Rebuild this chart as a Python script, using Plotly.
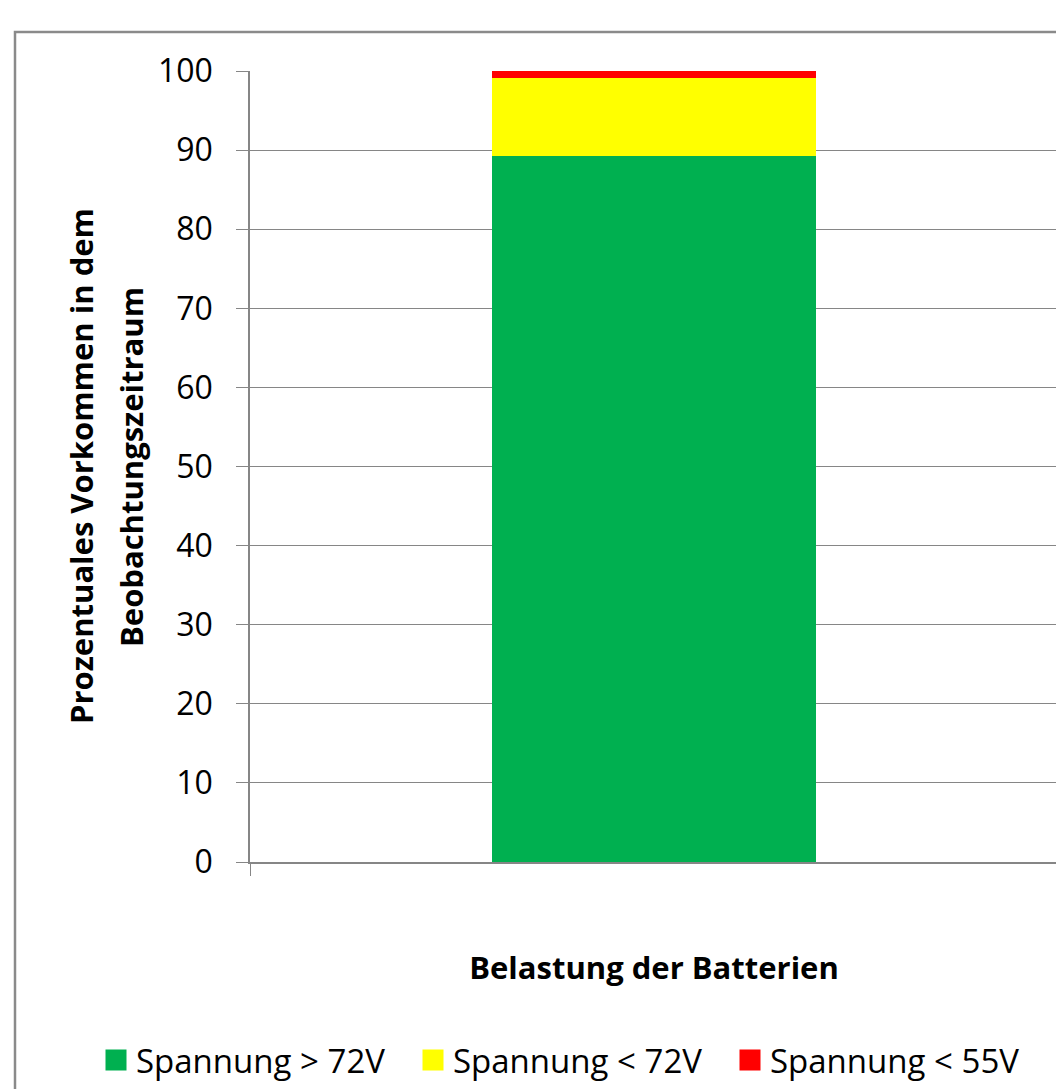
import plotly.graph_objects as go

categories = ["Belastung der Batterien"]
series_names = ["Spannung > 72V", "Spannung < 72V", "Spannung < 55V"]
green_vals = [89.3]
yellow_vals = [9.8]
red_vals = [0.9]
colors = ["#00B050", "#FFFF00", "#FF0000"]

FONT = "Open Sans"
OFF = 8  # page body margin of the html page

W, H = 1064, 1089
L = 250 - OFF
T = 71 - OFF
plot_right = 1058 - OFF
plot_bottom = 862 - OFF
R = W - plot_right
B = H - plot_bottom
pw = plot_right - L
ph = plot_bottom - T


def px_x(sx):
    return (sx - OFF - L) / pw


def px_y(sy):
    return (plot_bottom - (sy - OFF)) / ph


fig = go.Figure()
for name, vals, col in zip(series_names, [green_vals, yellow_vals, red_vals], colors):
    fig.add_trace(go.Bar(x=categories, y=vals, name=name, showlegend=False,
                         marker=dict(color=col, line=dict(width=0))))
for name, col in zip(series_names, colors):
    fig.add_trace(go.Scatter(x=[None], y=[None], mode="markers", name=name,
                             marker=dict(symbol="square", size=16, color=col,
                                         line=dict(width=5, color=col))))

fig.update_layout(
    width=W, height=H,
    margin=dict(l=L, r=R, t=T, b=B, autoexpand=False),
    barmode="stack", bargap=0.6,
    plot_bgcolor="white", paper_bgcolor="white",
    font=dict(family=FONT, color="#000000", size=32),
    showlegend=True,
    legend=dict(orientation="h", x=px_x(96), xanchor="left",
                y=px_y(1060), yanchor="middle",
                traceorder="normal", font=dict(size=33, family=FONT),
                itemwidth=30, itemsizing="trace", entrywidth=272, entrywidthmode="pixels",
                bgcolor="rgba(0,0,0,0)"),
    xaxis=dict(showticklabels=False, ticks="outside", tickson="boundaries",
               ticklen=12, tickcolor="#868686", showline=True, linecolor="#868686",
               linewidth=1.5, automargin=False,
               title=dict(text="<b>Belastung der Batterien</b>", font=dict(size=31, family=FONT),
                          standoff=95)),
    yaxis=dict(range=[0, 100], dtick=10, ticks="outside", ticklen=12, tickcolor="#868686",
               showline=True, linecolor="#868686", linewidth=1.5, automargin=False,
               showgrid=True, gridcolor="#868686", gridwidth=1.2,
               tickfont=dict(size=32, family=FONT), ticklabelstandoff=17),
    annotations=[
        dict(text="<b>Prozentuales Vorkommen in dem</b>", xref="paper", yref="paper",
             x=px_x(81), y=px_y(466), xanchor="center", yanchor="middle",
             textangle=-90, showarrow=False, font=dict(size=31, family=FONT)),
        dict(text="<b>Beobachtungszeitraum</b>", xref="paper", yref="paper",
             x=px_x(131), y=px_y(467), xanchor="center", yanchor="middle",
             textangle=-90, showarrow=False, font=dict(size=31, family=FONT)),
    ],
    shapes=[dict(type="rect", xref="paper", yref="paper",
                 x0=px_x(15), x1=px_x(1090),
                 y0=px_y(1110), y1=px_y(32),
                 line=dict(color="#8a8a8a", width=2.5), fillcolor="rgba(0,0,0,0)", layer="below")],
)

fig.write_html("out.html")
